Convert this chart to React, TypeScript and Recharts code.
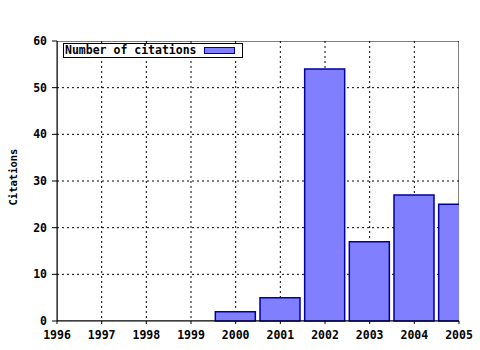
import {
  BarChart, Bar, XAxis, YAxis, CartesianGrid, Legend, ReferenceArea,
} from 'recharts';

const FONT = "'DejaVu Sans Mono', 'Liberation Mono', monospace";
const TICK = { fontSize: 11.5, fill: '#000', fontFamily: FONT, fontWeight: 'bold' };
const FILL = '#8080ff';
const EDGE = '#0000a0';

const years = [1996, 1997, 1998, 1999, 2000, 2001, 2002, 2003, 2004, 2005];
const citations = [0, 0, 0, 0, 2, 5, 54, 17, 27, 25];
const yTicks = [0, 10, 20, 30, 40, 50, 60];

const data = years.map((year, i) => ({ year, citations: citations[i] }));
const xDomain = [years[0], years[years.length - 1]];
// quarter-year minor ticks
const minorTicks = years.slice(0, -1).flatMap(y => [y + 0.25, y + 0.5, y + 0.75]);
const topTicks = [...years, ...minorTicks].sort((a, b) => a - b);

function LegendBox() {
  return (
    <div style={{
      width: 177, height: 13, border: '1px solid #000', background: '#fff',
      position: 'relative', fontFamily: FONT, fontSize: 11.5, fontWeight: 'bold',
      lineHeight: '13px', paddingLeft: 1, boxSizing: 'content-box',
    }}>
      Number of citations
      <span style={{
        position: 'absolute', left: 140, top: 3, width: 29, height: 5,
        background: FILL, border: `1px solid ${EDGE}`,
      }} />
    </div>
  );
}

export default function App() {
  return (
    <div style={{ position: 'absolute', left: 0, top: 0, width: 480, height: 350, background: '#fff' }}>
      <BarChart width={480} height={350} data={data} margin={{ top: 41, right: 21, bottom: 0, left: 0 }}>
        <CartesianGrid
          stroke="#000" strokeDasharray="2 3"
          verticalValues={years.slice(1, -1)} horizontalValues={yTicks.slice(1, -1)}
        />
        <XAxis
          xAxisId="minor" type="number" dataKey="year" domain={xDomain} allowDataOverflow
          ticks={minorTicks} tickSize={2} axisLine={false} tick={{ fontSize: 0 }}
          tickLine={{ stroke: '#000' }} tickFormatter={() => ''} height={0}
        />
        <XAxis
          type="number" dataKey="year" domain={xDomain} allowDataOverflow
          ticks={years} tick={TICK} tickSize={3} tickMargin={7} height={29}
          axisLine={{ stroke: '#000' }} tickLine={{ stroke: '#000' }}
        />
        <XAxis
          xAxisId="top" orientation="top" type="number" dataKey="year" domain={xDomain}
          allowDataOverflow ticks={topTicks} tickSize={3} tickFormatter={() => ''}
          axisLine={{ stroke: '#000' }} tickLine={{ stroke: '#000' }} height={0}
        />
        <YAxis
          domain={[0, 60]} ticks={yTicks} tick={TICK} tickSize={5} tickMargin={5} width={57}
          axisLine={{ stroke: '#000' }} tickLine={{ stroke: '#000' }}
          label={{
            content: () => (
              <text x={17} y={177} transform="rotate(-90 17 177)" textAnchor="middle"
                fontFamily={FONT} fontSize={10.5} fontWeight="bold" fill="#000">
                Citations
              </text>
            ),
          }}
        />
        <YAxis
          yAxisId="right" orientation="right" domain={[0, 60]} width={0} tick={false}
          tickLine={false} axisLine={{ stroke: '#000' }}
        />
        <Legend
          layout="horizontal" verticalAlign="middle" align="center"
          content={() => <LegendBox />}
          wrapperStyle={{ position: 'absolute', left: 63, top: 43, width: 'auto' }}
        />
        <Bar
          dataKey="citations" barSize={40} fill={FILL} stroke={EDGE} strokeWidth={1.5}
          isAnimationActive={false}
        />
        <ReferenceArea
          x1={xDomain[0]} x2={xDomain[1]} y1={0} y2={60}
          fill="none" stroke="#000" strokeWidth={1} ifOverflow="hidden"
        />
      </BarChart>
    </div>
  );
}
